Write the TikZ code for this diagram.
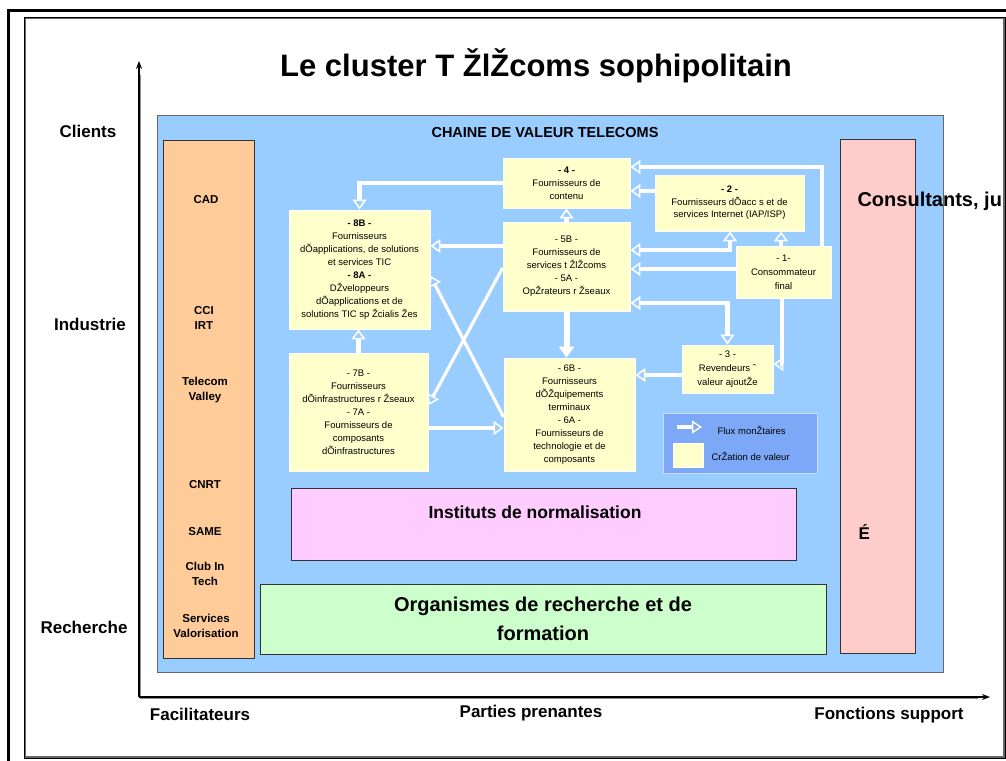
\documentclass[tikz,border=0pt]{standalone}
\usepackage{fontspec}
\setmainfont{Liberation Sans}
\usetikzlibrary{arrows.meta}
\definecolor{panelblue}{HTML}{99CCFF}
\definecolor{orangecol}{HTML}{FFCC99}
\definecolor{pinkcol}{HTML}{FFCCCC}
\definecolor{magcol}{HTML}{FFCCFF}
\definecolor{greencol}{HTML}{CCFFCC}
\definecolor{yel}{HTML}{FFFFCC}
\definecolor{legblue}{HTML}{7DA8F7}
\begin{document}
\begin{tikzpicture}[x=1pt,y=-1pt,
  ybox/.style={draw=white, line width=0.9pt, fill=yel, align=center, inner sep=0pt,
    font=\fontsize{9.5}{13}\selectfont},
  colbox/.style={draw=black!80, line width=0.8pt, inner sep=0pt},
  lbl/.style={font=\fontsize{17}{20}\selectfont\bfseries},
  collbl/.style={font=\fontsize{11.5}{14.5}\selectfont\bfseries, align=center},
  tip/.style={Triangle[open,width=14pt,length=10pt,line width=1.6pt]},
  flux/.style={white, line width=4.5pt, -{Triangle[open,width=14pt,length=10pt,line width=1.6pt]}},
  fluxboth/.style={white, line width=4.5pt, {Triangle[open,width=14pt,length=10pt,line width=1.6pt]}-{Triangle[open,width=14pt,length=10pt,line width=1.6pt]}},
  fluxthin/.style={white, line width=3.2pt, -{Triangle[open,width=13pt,length=10pt,line width=1.4pt]}},
  fluxbig/.style={white, line width=6pt, -{Triangle[width=15pt,length=11pt]}},
  axis/.style={black, line width=1.3pt, -{Stealth[length=8pt,width=6pt]}}
]
\useasboundingbox (0,0) rectangle (1006,760);
\clip (0,0) rectangle (1006,760);
\fill[white] (0,0) rectangle (1006,760);
% frames
\draw[line width=3pt] (8.5,10.5) rectangle (1040,800);
\draw[line width=1.6pt, black!60] (25.5,18.5) rectangle (1004,757);
\draw[line width=0.8pt, black] (24.3,17.3) rectangle (1005.2,758.2);

% title
\node[font=\fontsize{31}{34}\selectfont\bfseries] (title) at (536,66) {Le cluster T ŽlŽcoms sophipolitain};

% axes
\coordinate (origin) at (139,697);
\coordinate (ytip) at (139,61);
\coordinate (xtip) at (990,697);
\draw[line width=1.3pt, black!45] ([xshift=1.3pt,yshift=-1.3pt]origin) -- ([xshift=1.3pt]origin |- 0,75);
\draw[line width=1.3pt, black!45] ([xshift=1.3pt,yshift=-1.3pt]origin) -- (978,698.3);
\draw[axis] (origin) -- (ytip);
\draw[axis] (origin) -- (xtip);

% axis labels
\node[lbl] (clients) at (88,131) {Clients};
\node[lbl] (industrie) at (90,324) {Industrie};
\node[lbl] (recherche) at (84,627) {Recherche};
\node[lbl] (facil) at (200,714) {Facilitateurs};
\node[lbl] (parties) at (531,713) {Parties prenantes};
\node[lbl] (fonctions) at (889,715) {Fonctions support};

% blue panel
\node[draw=black!60, line width=1pt, fill=panelblue, minimum width=786pt, minimum height=557pt, inner sep=0pt] (panel) at (550,393.5) {};
\node[font=\fontsize{14.5}{16}\selectfont\bfseries] (chaine) at (545,133) {CHAINE DE VALEUR TELECOMS};

% left orange column
\node[colbox, fill=orangecol, minimum width=91pt, minimum height=518pt] (orange) at (208.5,399) {};
\node[collbl] (cad) at (206,200) {CAD};
\node[collbl] (cci) at (204,318) {CCI\\IRT};
\node[collbl] (telecom) at (205,390) {Telecom\\Valley};
\node[collbl] (cnrt) at (205,485) {CNRT};
\node[collbl] (same) at (205,532) {SAME};
\node[collbl] (club) at (205,574) {Club In\\Tech};
\node[collbl] (serv) at (206,626) {Services\\Valorisation};

% right pink column
\node[colbox, fill=pinkcol, minimum width=75pt, minimum height=514pt] (pink) at (877.5,396) {};
\node[font=\fontsize{20}{22}\selectfont\bfseries, anchor=west] (consult) at (854,201) {Consultants, ju};
\node[font=\fontsize{17}{20}\selectfont\bfseries, anchor=west] (eacute) at (855,532) {É};

% bottom boxes
\node[colbox, fill=magcol, minimum width=505pt, minimum height=72pt] (instituts) at (543.5,524) {};
\node[font=\fontsize{17.5}{20}\selectfont\bfseries] (institxt) at (535,512) {Instituts de normalisation};
\node[colbox, fill=greencol, minimum width=566pt, minimum height=70pt, align=center,
  font=\fontsize{20}{29}\selectfont\bfseries] (organismes) at (543,619) {Organismes de recherche et de\\formation};

% value chain boxes
\node[ybox, minimum width=127pt, minimum height=50pt] (n4) at (566.5,183)
  {\textbf{- 4 -}\\Fournisseurs de\\contenu};
\node[ybox, minimum width=149pt, minimum height=56pt, font=\fontsize{9.5}{12.5}\selectfont] (n2) at (729.5,203)
  {\textbf{- 2 -}\\Fournisseurs dÕacc s et de\\services Internet (IAP/ISP)};
\node[ybox, minimum width=127pt, minimum height=89pt] (n5) at (566.5,266.5)
  {- 5B -\\Fournisseurs de\\services t ŽlŽcoms\\- 5A -\\OpŽrateurs r Žseaux};
\node[ybox, minimum width=141pt, minimum height=119pt] (n8) at (359.5,269.5)
  {\textbf{- 8B -}\\Fournisseurs\\dÕapplications, de solutions\\et services TIC\\\textbf{- 8A -}\\DŽveloppeurs\\dÕapplications et de\\solutions TIC sp Žcialis Žes};
\node[ybox, minimum width=95pt, minimum height=52pt, font=\fontsize{9.5}{14}\selectfont] (n1) at (783.5,272)
  {- 1-\\Consommateur\\final};
\node[ybox, minimum width=139pt, minimum height=118pt] (n7) at (358.5,412)
  {- 7B -\\Fournisseurs\\dÕinfrastructures r Žseaux\\- 7A -\\Fournisseurs de\\composants\\dÕinfrastructures};
\node[ybox, minimum width=131pt, minimum height=113pt] (n6) at (569.5,414.5)
  {- 6B -\\Fournisseurs\\dÕŽquipements\\terminaux\\- 6A -\\Fournisseurs de\\technologie et de\\composants};
\node[ybox, minimum width=91pt, minimum height=48pt, font=\fontsize{9.5}{14}\selectfont] (n3) at (727.5,369)
  {- 3 -\\Revendeurs ˆ\\valeur ajoutŽe};

% legend
\node[draw=white!60!legblue, line width=1pt, fill=legblue, minimum width=154pt, minimum height=60pt, inner sep=0pt] (legend) at (740,443) {};
\coordinate (la1) at (677,427);
\coordinate (la2) at (702,427);
\draw[fluxthin] (la1) -- (la2);
\node[font=\fontsize{9.5}{12}\selectfont, anchor=west] (fluxtxt) at (714,430) {Flux monŽtaires};
\node[draw=white, line width=0.8pt, fill=yel, minimum width=30pt, minimum height=24pt, inner sep=0pt] (legsq) at (688,455) {};
\node[font=\fontsize{9.5}{12}\selectfont, anchor=west] (creatxt) at (708,456) {CrŽation de valeur};

% flows
\draw[flux] (n4.west) -| (n8.north);
\draw[flux] (n5.west |- 0,246) -- (n8.east |- 0,246);
\draw[flux] (n5.north) -- (n4.south);
\draw[fluxbig] (n5.south) -- (n5.south |- n6.north);
\draw[flux] (n7.north) -- (n7.north |- n8.south);
\draw[flux] (n7.east |- 0,428) -- (n6.west |- 0,428);
\draw[fluxthin] (n6.west |- 0,417) -- (n8.east |- 0,276);
\draw[fluxthin] (n5.west |- 0,268) -- (n7.east |- 0,405);
\draw[flux] (n2.west |- 0,191) -- (n4.east |- 0,191);
\draw[flux] (n1.north -| 822,0) |- (n4.east |- 0,167);
\draw[fluxboth] (n2.south -| 730,0) |- (n5.east |- 0,250);
\draw[flux] (n1.north -| 781,0) -- (n2.south -| 781,0);
\draw[flux] (n1.west |- 0,269) -- (n5.east |- 0,269);
\draw[fluxboth] (n5.east |- 0,303) -| (n3.north);
\draw[flux] (n1.south -| 782,0) |- (n3.east |- 0,364);
\draw[flux] (n3.west |- 0,375) -- (n6.east |- 0,375);
\end{tikzpicture}
\end{document}
